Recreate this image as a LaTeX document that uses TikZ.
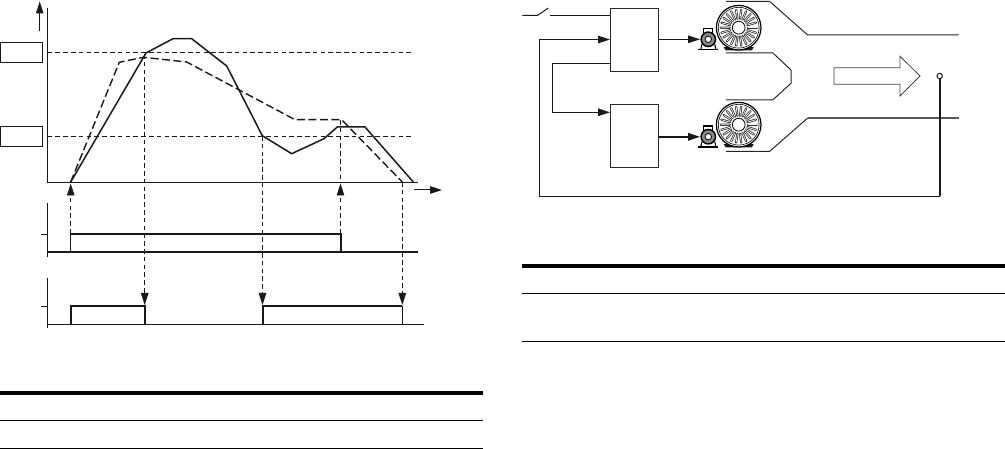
\documentclass[tikz,border=0pt]{standalone}
\usetikzlibrary{arrows.meta,calc}
\tikzset{
  thin line/.style={line width=1pt,draw=black!90},
  curve/.style={line width=1.5pt,draw=black!90,line join=round},
  dcurve/.style={line width=1.4pt,draw=black!90,dash pattern=on 8pt off 3.5pt,line join=round},
  guide/.style={line width=0.95pt,draw=black!90,dash pattern=on 4.6pt off 3.2pt},
  tip/.style={-{Triangle[length=12pt,width=7.5pt]}},
  pulse/.style={line width=1.5pt,draw=black!90},
  valbox/.style={draw=black!90,line width=1pt,minimum width=41.5pt,minimum height=19.5pt,inner sep=0pt},
  ctrlbox/.style={draw=black!85,line width=1pt,minimum width=48pt,minimum height=63.5pt,inner sep=0pt},
  duct/.style={line width=1pt,draw=black!85,line join=miter},
  tabthick/.style={line width=4pt,draw=black},
  tabthin/.style={line width=1pt,draw=black},
}
\newcommand{\fanmotor}[2]{%
  \begin{scope}[shift={(738.7,#1)}]
    \fill[black!90] (-15,19.5) -- (-13,22.8) -- (13,22.8) -- (15,19.5) -- cycle;
    \draw[line width=1.2pt,fill=white] (0,0) circle (22.3);
    \draw[line width=0.6pt] (0,0) circle (20.4);
    \foreach \a in {0,16.36,...,359}{
      \draw[line width=2.2pt,draw=black!85,line cap=round] (\a:9) -- (\a:18);
      \draw[line width=0.7pt,draw=white,line cap=round] (\a:9.3) -- (\a:17.7);
    }
    \draw[line width=0.8pt,fill=white] (0,0) circle (6.4);
  \end{scope}
  \begin{scope}[shift={(708.3,#2)}]
    \draw[line width=1.1pt,fill=white] (-4.5,-6) -- (-4.5,-10.7) -- (4.2,-10.7) -- (4.2,-6);
    \draw[line width=1.6pt] (-10,10.3) -- (9.5,10.3);
    \draw[line width=1.1pt] (-6.5,5) -- (-7.5,10) (6.5,5) -- (7.5,10);
    \draw[line width=1.5pt,fill=black!45] (0,0) circle (7.2);
    \fill[white] (0,0) circle (3.2);
    \draw[line width=0.8pt] (0,0) circle (3.2);
  \end{scope}
}
\begin{document}
\begin{tikzpicture}[x=1pt,y=-1pt]
\useasboundingbox (0,0) rectangle (1005,449);

\coordinate (yaxT) at (47.5,8);
\coordinate (org) at (47.5,182.3);
\coordinate (xaxE) at (417.7,182.3);
\coordinate (upA) at (39.7,31);
\coordinate (upB) at (39.7,1.5);
\coordinate (rtA) at (414,190);
\coordinate (rtB) at (442,190);
\coordinate (h1A) at (47.5,52.5);
\coordinate (h1B) at (414,52.5);
\coordinate (h2A) at (47.5,136.5);
\coordinate (h2B) at (414,136.5);

\node[valbox] (v1) at (21.3,52.4) {};
\node[valbox] (v2) at (21.3,136.3) {};

\draw[thin line] (yaxT) -- (org) -- (xaxE);
\draw[thin line,tip] (upA) -- (upB);
\draw[thin line,tip] (rtA) -- (rtB);
\draw[guide] (h1A) -- (h1B);
\draw[guide] (h2A) -- (h2B);

\draw[curve] (70.7,182) -- (146,53) -- (173,38.7) -- (191.7,38.7) -- (226.7,66) -- (262.3,135.7) -- (291.7,153.7) -- (324,138.7) -- (337.3,127) -- (365,127) -- (413.3,182);
\draw[dcurve] (70.7,182) -- (119.3,62.3) -- (143.3,57.3) -- (186.7,62) -- (295,119.7) -- (341.7,119.7) -- (402.3,182);

\coordinate (a1T) at (47.5,203);
\coordinate (a1B) at (47.5,256.7);
\coordinate (t1) at (41,234.3);
\coordinate (t1e) at (47.5,234.3);
\coordinate (b1A) at (47.5,252);
\coordinate (b1B) at (417.7,252);
\coordinate (a2T) at (47.5,278);
\coordinate (a2B) at (47.5,328);
\coordinate (t2) at (41,306.3);
\coordinate (t2e) at (47.5,306.3);
\coordinate (b2A) at (47.5,324.5);
\coordinate (b2B) at (424,324.5);
\draw[thin line] (a1T) -- (a1B);
\draw[thin line] (t1) -- (t1e);
\draw[line width=1.8pt,draw=black!90] (b1A) -- (b1B);
\draw[thin line] (a2T) -- (a2B);
\draw[thin line] (t2) -- (t2e);
\draw[thin line] (b2A) -- (b2B);
\draw[pulse] (70.7,252) -- (70.7,234) -- (341,234) -- (341,252);
\draw[pulse] (71,324.5) -- (71,306) -- (145,306) -- (145,324.5);
\draw[pulse] (263,324.5) -- (263,306) -- (402.3,306);
\draw[thin line] (402.3,306) -- (402.3,324.5);

\coordinate (g1A) at (70.7,233.7);  \coordinate (g1B) at (70.7,183.5);
\coordinate (g2A) at (340.5,233.7); \coordinate (g2B) at (340.5,183.5);
\coordinate (g2C) at (340.5,120);   \coordinate (g2D) at (340.5,182.3);
\coordinate (g3A) at (144.7,54);    \coordinate (g3B) at (144.7,305);
\coordinate (g4A) at (262.5,136);   \coordinate (g4B) at (262.5,305);
\coordinate (g5A) at (402.3,182);   \coordinate (g5B) at (402.3,305);
\draw[guide,tip] (g1A) -- (g1B);
\draw[guide,tip] (g2A) -- (g2B);
\draw[guide] (g2C) -- (g2D);
\draw[guide,tip] (g3A) -- (g3B);
\draw[guide,tip] (g4A) -- (g4B);
\draw[guide,tip] (g5A) -- (g5B);

\coordinate (lt1A) at (0,393);   \coordinate (lt1B) at (483,393);
\coordinate (lt2A) at (0,420.3); \coordinate (lt2B) at (483,420.3);
\coordinate (lt3A) at (0,448);   \coordinate (lt3B) at (483,448);
\draw[tabthick] (lt1A) -- (lt1B);
\draw[tabthin] (lt2A) -- (lt2B);
\draw[tabthin] (lt3A) -- (lt3B);

\coordinate (rt1A) at (522,266);   \coordinate (rt1B) at (1005,266);
\coordinate (rt2A) at (522,294);   \coordinate (rt2B) at (1005,294);
\coordinate (rt3A) at (522,342);   \coordinate (rt3B) at (1005,342);
\draw[tabthick] (rt1A) -- (rt1B);
\draw[tabthin] (rt2A) -- (rt2B);
\draw[tabthin] (rt3A) -- (rt3B);

\fanmotor{27.7}{39.3}
\fanmotor{124.7}{136.7}

\node[ctrlbox] (c1) at (634.5,40.2) {};
\node[ctrlbox] (c2) at (634.5,136.2) {};

\coordinate (swA) at (522.3,15.3);
\coordinate (swB) at (537.7,15.3);
\coordinate (swC) at (548.3,8);
\coordinate (swD) at (550,15.3);
\coordinate (fbIn) at (c1.west |- 0,39.5);
\coordinate (fbC) at (539.5,39.5);
\coordinate (fbD) at (539.5,196.3);
\coordinate (fbE) at (940,196.3);
\node[draw=black!90,line width=1pt,circle,minimum size=5.4pt,inner sep=0pt,fill=white] (sens) at (939.7,76) {};
\coordinate (m1) at (700,39.3);
\coordinate (m2) at (700,136.8);

\draw[thin line] (swA) -- (swB) -- (swC);
\draw[thin line] (swD) -- (c1.west |- swD);
\draw[thin line,tip] (fbE -| sens) -- (fbD) -- (fbC) -- (fbIn);
\draw[line width=1.6pt,draw=black!90] (sens.south) -- (fbE -| sens);
\draw[thin line,tip] (c1.west |- 0,63.3) -- (552.3,63.3) -- (552.3,112.3) -- (c2.west |- 0,112.3);
\draw[thin line,tip] (c1.east |- m1) -- (m1);
\draw[line width=1.5pt,draw=black!90,tip] (c2.east |- m2) -- (m2);

\draw[duct] (726,1.5) -- (769.7,1.5) -- (807.7,35) -- (958.7,35);
\draw[duct] (726,52.8) -- (772.7,52.8) -- (791,70) -- (791,83.3) -- (772.7,100) -- (726,100);
\draw[duct] (726,151.3) -- (769.7,151.3) -- (807.7,118);
\draw[line width=1.4pt,draw=black!65] (807.7,118) -- (958.7,118);
\draw[line width=1.6pt,draw=black!90] (939.7,100) -- (939.7,130);

\draw[line width=0.8pt,draw=black!75,line join=miter] (834,67.7) -- (900,67.7) -- (900,56.3) -- (920,76) -- (900,96) -- (900,84.3) -- (834,84.3) -- cycle;
\end{tikzpicture}
\end{document}
